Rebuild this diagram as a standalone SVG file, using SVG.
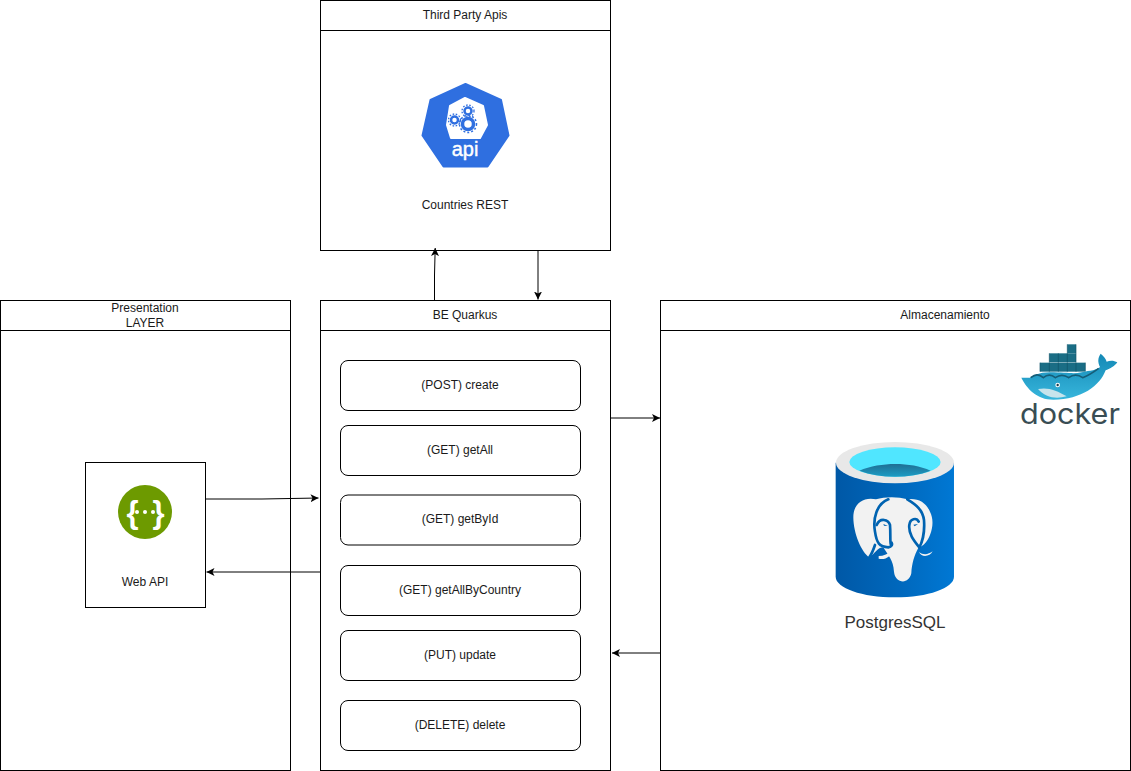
<svg xmlns="http://www.w3.org/2000/svg" width="1131" height="771" viewBox="0 0 1131 771">
<style>
.box{fill:#fff;stroke:#000;stroke-width:1}
.ln{fill:none;stroke:#000;stroke-width:1}
.t{font-family:"Liberation Sans",Arial,sans-serif;font-size:12px;fill:#1a1a1a;text-anchor:middle}
.conn{fill:none;stroke:#000;stroke-width:1;marker-end:url(#arr)}
</style>
<defs>
<marker id="arr" markerUnits="userSpaceOnUse" markerWidth="10" markerHeight="10" refX="8" refY="4" orient="auto"><path d="M0 0L8 4L0 8L2 4Z" fill="#000"/></marker>
<linearGradient id="cyl" x1="0" x2="1" y1="0" y2="0"><stop offset="0" stop-color="#0058a6"/><stop offset=".55" stop-color="#0068bd"/><stop offset="1" stop-color="#0078d4"/></linearGradient>
<linearGradient id="water" x1="0" x2="0" y1="0" y2="1"><stop offset="0" stop-color="#1f6f94"/><stop offset="1" stop-color="#1d9cc4"/></linearGradient>
<linearGradient id="whale" x1="0" x2="0" y1="0" y2="1"><stop offset="0" stop-color="#1488b5"/><stop offset="1" stop-color="#37b6dc"/></linearGradient>
</defs>

<g id="third-party-apis">
<rect class="box" x="320.500" y="0.500" width="290" height="250"/>
<path class="ln" d="M320.500 30.500H610.500"/>
<text class="t" x="465" y="19">Third Party Apis</text>
<g id="api-icon">
<path d="M465.500 84L501 100L508.500 135.500L487.500 166.500H443.500L422.500 135.500L430.500 100Z" fill="#2f6fe0" stroke="#2f6fe0" stroke-width="2" stroke-linejoin="round"/>
<path d="M465 98L483 106L487 125L480 138H451L447 125L450 106Z" fill="#fff" stroke="#fff" stroke-width="2" stroke-linejoin="round"/>
<g fill="none" stroke="#2f6fe0">
<circle cx="468" cy="124" r="5.500" stroke-width="3.500"/>
<circle cx="468" cy="124" r="8.500" stroke-width="1.500" stroke-dasharray="2 2"/>
<circle cx="454.500" cy="120" r="3.500" stroke-width="2.500"/>
<circle cx="454.500" cy="120" r="6" stroke-width="1.300" stroke-dasharray="1.600 1.600"/>
<circle cx="468" cy="111" r="3.500" stroke-width="2.500"/>
<circle cx="468" cy="111" r="6" stroke-width="1.300" stroke-dasharray="1.600 1.600"/>
</g>
<text x="465" y="156" font-family="Liberation Sans,Arial,sans-serif" font-size="20" fill="#fff" stroke="#fff" stroke-width=".4" text-anchor="middle">api</text>
</g>
<text class="t" x="465" y="209">Countries REST</text>
</g>

<g id="presentation-layer">
<rect class="box" x="0.500" y="300.500" width="290" height="470"/>
<path class="ln" d="M0.500 330.500H290.500"/>
<text class="t" x="145" y="312">Presentation</text>
<text class="t" x="145" y="327">LAYER</text>
</g>
<g id="web-api">
<rect class="box" x="85.500" y="462.500" width="120" height="145"/>
<circle cx="145" cy="512" r="27" fill="#6d9a00"/>
<g font-family="Liberation Sans,Arial,sans-serif" font-size="31" font-weight="bold" fill="#fff" text-anchor="middle">
<text x="132.500" y="523">{</text>
<text x="158.500" y="523">}</text>
</g>
<circle cx="137" cy="512" r="2" fill="#fff"/><circle cx="145" cy="512" r="2" fill="#fff"/><circle cx="153" cy="512" r="2" fill="#fff"/>
<text class="t" x="145" y="586">Web API</text>
</g>

<g id="be-quarkus">
<rect class="box" x="320.500" y="300.500" width="290" height="470"/>
<path class="ln" d="M320.500 330.500H610.500"/>
<text class="t" x="465" y="319">BE Quarkus</text>
</g>
<g id="post-create"><rect class="box" x="340.500" y="360.500" width="240" height="50" rx="7.500"/><text class="t" x="460" y="389">(POST) create</text></g>
<g id="get-all"><rect class="box" x="340.500" y="425.500" width="240" height="50" rx="7.500"/><text class="t" x="460" y="454">(GET) getAll</text></g>
<g id="get-by-id"><rect class="box" x="340.500" y="495" width="240" height="50" rx="7.500"/><text class="t" x="460" y="523">(GET) getById</text></g>
<g id="get-all-by-country"><rect class="box" x="340.500" y="565.500" width="240" height="50" rx="7.500"/><text class="t" x="460" y="594">(GET) getAllByCountry</text></g>
<g id="put-update"><rect class="box" x="340.500" y="630.500" width="240" height="50" rx="7.500"/><text class="t" x="460" y="659">(PUT) update</text></g>
<g id="delete-delete"><rect class="box" x="340.500" y="700.500" width="240" height="50" rx="7.500"/><text class="t" x="460" y="729">(DELETE) delete</text></g>

<g id="almacenamiento">
<rect class="box" x="660.500" y="300.500" width="470" height="470"/>
<path class="ln" d="M660.500 330.500H1130.500"/>
<text class="t" x="945" y="319">Almacenamiento</text>
</g>

<g id="docker-logo" transform="translate(1010 335) scale(.3333)">
<g fill="#1a6d85">
<rect x="172" y="28" width="26" height="27"/>
<rect x="118" y="55" width="80" height="27"/>
<rect x="90" y="83" width="136" height="27"/>
</g>
<g stroke="#0f5368" stroke-width="2" fill="none"><path d="M118 82V55M145 82V55M172 82V28M198 82V28M90 110V83M118 110V83M145 110V83M172 110V83M198 110V83M226 110V83"/></g>
<path d="M34 128H60C72 122 85 112 120 112C170 112 190 118 215 112C240 106 262 106 270 96C262 80 264 68 272 56C282 64 288 72 290 80C300 76 312 76 322 82C314 94 298 102 287 106C270 152 215 194 130 194C80 194 50 160 34 128Z" fill="url(#whale)"/>
<path d="M62 128C76 118 86 116 100 128C112 118 124 118 136 128C150 118 162 118 176 128C190 118 204 118 218 128C234 122 250 112 266 100" fill="none" stroke="#155d78" stroke-width="5"/>
<path d="M84 162C115 156 140 166 170 184C135 194 105 186 84 162Z" fill="#c7e4ec"/>
<circle cx="143" cy="150" r="7" fill="#fff"/><circle cx="143" cy="150" r="3.500" fill="#1a3a48"/>
<text x="30" y="268" font-family="Inter,'Liberation Sans',sans-serif" font-size="84" fill="#394d54" textLength="300" lengthAdjust="spacingAndGlyphs">docker</text>
</g>

<g id="postgres-icon" transform="translate(820 430) scale(.3333)">
<path d="M47 98V440C47 474 126 502 225 502C324 502 402 474 402 440V98Z" fill="url(#cyl)"/>
<ellipse cx="225" cy="98" rx="177" ry="62" fill="#e8e8e8"/>
<ellipse cx="225" cy="96" rx="137" ry="44" fill="#50e6ff"/>
<path d="M118 122C150 108 190 102 225 102C265 102 300 108 332 122C300 134 265 140 225 140C185 140 150 134 118 122Z" fill="url(#water)"/>
<path d="M168 208C130 200 100 220 100 262C100 310 125 368 148 382C165 372 172 352 190 352C205 378 220 390 222 425C225 460 266 466 274 430C276 400 282 378 296 352C308 350 322 335 330 315C340 290 340 265 330 245C318 218 295 204 262 208C235 200 195 200 168 208Z" fill="#f2f2f2"/>
<path d="M176 378C190 378 205 372 218 360C215 378 195 392 176 386Z" fill="#f2f2f2"/>
<path d="M297 366C310 376 325 374 338 364C330 380 305 384 297 366Z" fill="#f2f2f2"/>
<g fill="none" stroke="#0063b1" stroke-width="8" stroke-linecap="round">
<path d="M205 208C170 222 158 265 165 305C170 340 178 350 205 352C215 350 218 345 215 338"/>
<path d="M262 208C290 225 308 240 312 270C315 310 305 340 298 352C280 330 265 310 268 285C270 265 290 262 296 275"/>
<path d="M170 285C180 262 205 268 210 285C212 310 210 330 212 342"/>
<path d="M165 345C160 360 155 372 148 382"/>
</g>
<path d="M190 282l14 6-12-1Z M280 284l14-2-10 7Z" fill="#0063b1"/>
</g>
<text x="895" y="628" font-family="Liberation Sans,Arial,sans-serif" font-size="17" fill="#333" text-anchor="middle">PostgresSQL</text>

<g id="connectors">
<path class="conn" d="M434.500 300V275L435.200 248"/>
<path class="conn" d="M538 250.500V299.500"/>
<path class="conn" d="M205.500 499H262L318.500 498"/>
<path class="conn" d="M320.500 572H206.500"/>
<path class="conn" d="M610.500 418H660"/>
<path class="conn" d="M660.500 653H612"/>
</g>
</svg>
